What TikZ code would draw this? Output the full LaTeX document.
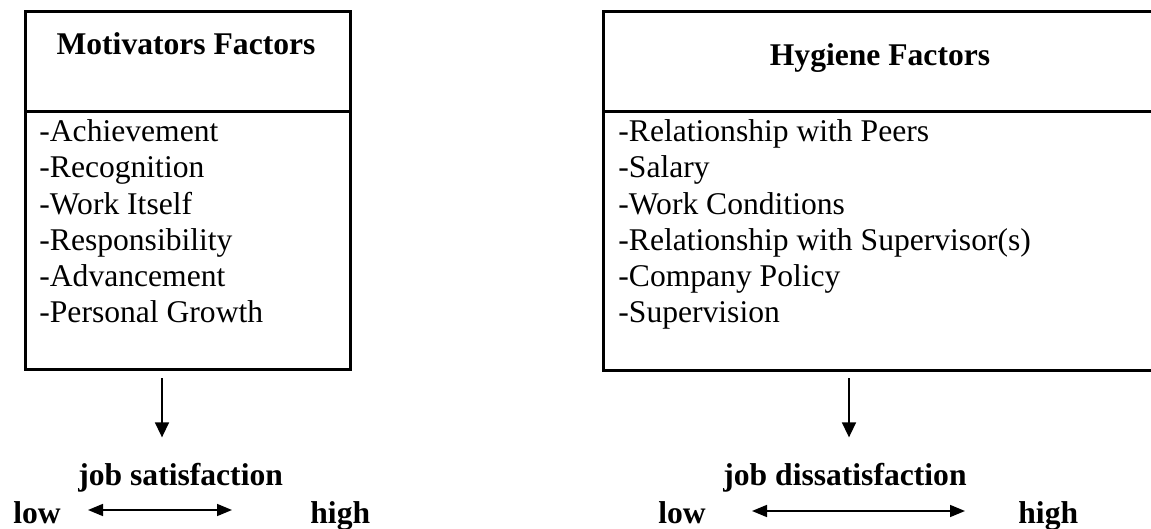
\documentclass[tikz,border=0pt]{standalone}
\usepackage{fontspec}
\setmainfont{Liberation Serif}
\usepackage{tikz}
\usetikzlibrary{arrows.meta}

\begin{document}
\begin{tikzpicture}[x=.5pt, y=-.5pt,
  box/.style={line width=1.5pt},
  head/.style={font=\fontsize{15.8}{19}\selectfont\bfseries, inner sep=0pt, anchor=base},
  item/.style={font=\fontsize{15.8}{19}\selectfont, inner sep=0pt, anchor=base west},
  lbl/.style={font=\fontsize{15.8}{19}\selectfont\bfseries, inner sep=0pt, anchor=base west},
  down/.style={line width=.8pt, -{Triangle[length=7.5pt,width=7pt]}, shorten >=12.5pt},
  spanline/.style={line width=.8pt, {Triangle[length=7.5pt,width=6pt]}-{Triangle[length=7.5pt,width=6pt]}}]
  \useasboundingbox (0,0) rectangle (1151,529);
  \draw[box] (25,12) rectangle (350,369);
  \draw[box] (25,112) -- (350,112);
  \draw[box] (1151,12) -- (603,12) -- (603,370) -- (1151,370);
  \draw[box] (603,112) -- (1151,112);
\node[head] (mhead) at (186,55) {Motivators Factors};
\node[head] (hhead) at (880,66) {Hygiene Factors};
  \foreach \t [count=\i] in {Achievement, Recognition, Work Itself, Responsibility, Advancement, Personal Growth}
    \node[item] (m\i) at (39, 105.5+36.2*\i) {-\t};
  \foreach \t [count=\i] in {Relationship with Peers, Salary, Work Conditions, Relationship with Supervisor(s), Company Policy, Supervision}
    \node[item] (h\i) at (618, 105.5+36.2*\i) {-\t};
\node[lbl] (msat) at (78,485) {job satisfaction};
\node[lbl] (mlow) at (13,523) {low};
\node[lbl] (mhigh) at (310,523) {high};
\node[lbl] (hdis) at (723,485) {job dissatisfaction};
\node[lbl] (hlow) at (658,523) {low};
\node[lbl] (hhigh) at (1018,523) {high};
  \coordinate (mfoot) at (162,378);
  \coordinate (hfoot) at (849,378);
  \draw[down] (mfoot) -- (mfoot |- msat.north);
  \draw[down] (hfoot) -- (hfoot |- hdis.north);
  \coordinate (ml) at (88,510);
  \coordinate (mr) at (232,510);
  \coordinate (hl) at (752,511);
  \coordinate (hr) at (965,511);
  \draw[spanline] (ml) -- (mr);
  \draw[spanline] (hl) -- (hr);
 \end{tikzpicture}
\end{document}
